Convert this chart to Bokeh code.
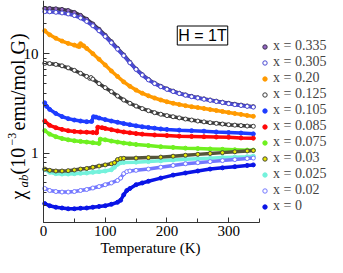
import math
from bokeh.plotting import figure
from bokeh.models import FixedTicker, Label, Legend, LegendItem, Range1d, BasicTickFormatter
from bokeh.embed import file_html
from bokeh.resources import INLINE

# ---------------- data ----------------
x_ticks = [0, 100, 200, 300]
x_tick_labels = ["0", "100", "200", "300"]
x_minor = [50, 150, 250, 350]
y_ticks = [1, 10]
y_tick_labels = ["1", "10"]
y_minor = [0.2, 0.3, 0.4, 0.5, 0.6, 0.7, 0.8, 0.9, 2, 3, 4, 5, 6, 7, 8, 9, 20, 30]

T_335 = [2, 10, 20, 30, 40, 50, 60, 70, 80, 90, 100, 110, 120, 130, 140, 150, 160, 170, 180, 190,
         200, 210, 220, 230, 240, 250, 260, 270, 280, 290, 300, 310, 320, 330, 340]
chi_335 = [28.5, 28.5, 28.3, 27.9, 27.2, 26.0, 24.3, 22.2, 19.9, 17.6, 15.3, 13.2, 11.3, 9.7, 8.2, 7.0,
           6.15, 5.5, 5.05, 4.7, 4.42, 4.2, 4.0, 3.85, 3.72, 3.61, 3.51, 3.42, 3.33, 3.25, 3.17, 3.1,
           3.04, 2.98, 2.93]

T_305 = [2, 10, 20, 30, 40, 50, 60, 70, 80, 90, 100, 110, 120, 130, 140, 150, 160, 170, 180, 190,
         200, 210, 220, 230, 240, 250, 260, 270, 280, 290, 300, 310, 320, 330, 340]
chi_305 = [26.5, 26.4, 26.1, 25.7, 25.1, 24.2, 22.9, 21.1, 19.1, 17.0, 14.9, 12.9, 11.1, 9.55, 8.1,
           6.95, 6.1, 5.45, 5.0, 4.65, 4.38, 4.16, 3.97, 3.82, 3.69, 3.58, 3.48, 3.39, 3.3, 3.22,
           3.14, 3.07, 3.01, 2.95, 2.9]

T_20 = [2, 10, 20, 30, 40, 50, 55, 58, 60, 65, 70, 80, 90, 100, 110, 120, 130, 140, 150, 160, 170,
        180, 190, 200, 210, 220, 230, 240, 250, 260, 270, 280, 290, 300, 310, 320, 330, 340]
chi_20 = [17.0, 15.5, 14.3, 13.4, 12.7, 12.2, 11.95, 11.8, 12.6, 12.0, 11.3, 10.0, 8.8, 7.7, 6.7,
          5.9, 5.2, 4.7, 4.3, 4.0, 3.77, 3.58, 3.42, 3.28, 3.17, 3.08, 3.0, 2.93, 2.87, 2.81, 2.74,
          2.68, 2.62, 2.56, 2.5, 2.45, 2.39, 2.34]

T_125 = [2, 10, 20, 30, 40, 50, 60, 70, 75, 77, 80, 90, 100, 110, 120, 130, 140, 150, 160, 170, 180,
         190, 200, 210, 220, 230, 240, 250, 260, 270, 280, 290, 300, 310, 320, 330, 340]
chi_125 = [8.0, 7.95, 7.8, 7.55, 7.2, 6.8, 6.35, 5.9, 5.65, 5.75, 5.55, 5.0, 4.55, 4.15, 3.75, 3.42,
           3.17, 2.97, 2.8, 2.67, 2.55, 2.46, 2.38, 2.32, 2.26, 2.2, 2.15, 2.1, 2.06, 2.02, 1.99,
           1.96, 1.93, 1.91, 1.89, 1.87, 1.86]

T_105 = [2, 5, 10, 20, 30, 40, 50, 60, 70, 78, 81, 85, 90, 100, 110, 120, 130, 140, 150, 160, 170,
         180, 190, 200, 220, 240, 260, 280, 300, 320, 340]
chi_105 = [3.2, 2.95, 2.75, 2.5, 2.33, 2.22, 2.15, 2.1, 2.07, 2.08, 2.32, 2.3, 2.25, 2.17, 2.1, 2.04,
           1.98, 1.93, 1.88, 1.84, 1.81, 1.78, 1.75, 1.73, 1.7, 1.68, 1.66, 1.63, 1.61, 1.59, 1.56]

T_085 = [2, 10, 20, 30, 40, 50, 60, 70, 80, 86, 88, 95, 100, 110, 120, 130, 140, 150, 160, 180, 200,
         220, 240, 260, 280, 300, 320, 340]
chi_085 = [2.1, 1.9, 1.8, 1.73, 1.68, 1.65, 1.63, 1.62, 1.61, 1.6, 1.82, 1.8, 1.77, 1.72, 1.67, 1.63,
           1.6, 1.57, 1.55, 1.52, 1.5, 1.48, 1.47, 1.46, 1.45, 1.44, 1.42, 1.41]

T_075 = [2, 10, 20, 30, 40, 50, 60, 70, 80, 90, 92, 100, 110, 120, 130, 140, 150, 170, 190, 210,
         230, 250, 270, 290, 310, 330, 340]
chi_075 = [1.68, 1.55, 1.46, 1.4, 1.36, 1.33, 1.31, 1.29, 1.27, 1.25, 1.38, 1.36, 1.32, 1.29, 1.26,
           1.24, 1.22, 1.19, 1.16, 1.14, 1.12, 1.11, 1.1, 1.09, 1.08, 1.07, 1.07]

T_03 = [2, 10, 20, 30, 40, 50, 60, 70, 80, 90, 100, 110, 115, 120, 125, 130, 150, 170, 190, 210,
        230, 250, 270, 290, 310, 330, 340]
chi_03 = [0.69, 0.67, 0.66, 0.66, 0.665, 0.675, 0.69, 0.7, 0.72, 0.74, 0.76, 0.78, 0.8, 0.86, 0.88,
          0.885, 0.89, 0.9, 0.91, 0.93, 0.95, 0.97, 0.99, 1.01, 1.03, 1.05, 1.06]

T_025 = [2, 10, 20, 30, 40, 50, 60, 70, 80, 90, 100, 110, 115, 120, 125, 130, 150, 170, 190, 210,
         230, 250, 270, 290, 310, 330, 340]
chi_025 = [0.68, 0.64, 0.62, 0.615, 0.615, 0.62, 0.625, 0.63, 0.64, 0.65, 0.66, 0.68, 0.72, 0.77,
           0.8, 0.805, 0.81, 0.82, 0.835, 0.85, 0.865, 0.875, 0.885, 0.9, 0.91, 0.92, 0.93]

T_02 = [2, 10, 20, 30, 40, 50, 60, 70, 80, 90, 100, 110, 120, 125, 130, 135, 140, 150, 170, 190,
        210, 230, 250, 270, 290, 310, 330, 340]
chi_02 = [0.44, 0.42, 0.41, 0.405, 0.405, 0.41, 0.42, 0.43, 0.445, 0.46, 0.48, 0.5, 0.53, 0.56, 0.62,
          0.65, 0.66, 0.67, 0.69, 0.72, 0.75, 0.78, 0.8, 0.82, 0.84, 0.86, 0.88, 0.89]

T_0 = [2, 10, 20, 30, 40, 50, 60, 70, 80, 90, 100, 110, 120, 125, 130, 135, 140, 150, 160, 170, 190,
       210, 230, 250, 270, 290, 310, 330, 340]
chi_0 = [0.31, 0.295, 0.285, 0.28, 0.275, 0.275, 0.278, 0.28, 0.285, 0.29, 0.295, 0.305, 0.32, 0.335,
         0.38, 0.42, 0.44, 0.48, 0.5, 0.52, 0.56, 0.6, 0.63, 0.66, 0.69, 0.71, 0.73, 0.75, 0.76]

legend_labels = ["x = 0.335", "x = 0.305", "x = 0.20", "x = 0.125", "x = 0.105", "x = 0.085",
                 "x = 0.075", "x = 0.03", "x = 0.025", "x = 0.02", "x = 0"]

# (T, chi, line colour, marker fill, marker line colour)
series = [
    (T_335, chi_335, "#3e3550", "#9466c4", "#3e3550"),
    (T_305, chi_305, "#4a4ad2", "white", "#4a4ad2"),
    (T_20, chi_20, "#ff9a00", "#ff9a00", "#ff9a00"),
    (T_125, chi_125, "#3c3c3c", "white", "#3c3c3c"),
    (T_105, chi_105, "#1e3cff", "#1e3cff", "#1e3cff"),
    (T_085, chi_085, "#ff0808", "#ff0808", "#ff0808"),
    (T_075, chi_075, "#6ff020", "#6ff020", "#6ff020"),
    (T_03, chi_03, "#55553a", "#e8e800", "#4a4a3a"),
    (T_025, chi_025, "#74f2dc", "#74f2dc", "#74f2dc"),
    (T_02, chi_02, "#7478ff", "white", "#7478ff"),
    (T_0, chi_0, "#0a14e6", "#0a14e6", "#0a14e6"),
]

# ---------------- figure ----------------
# the frame covers the whole canvas; the axes are pinned with fixed_location + bounds
p = figure(width=327, height=257, x_range=Range1d(-69.68, 460.18), y_range=Range1d(0.0889, 34.30),
           y_axis_type="log", output_backend="svg", toolbar_location=None,
           min_border_left=0, min_border_right=0, min_border_top=0, min_border_bottom=0)
p.outline_line_color = None
p.xgrid.visible = False
p.ygrid.visible = False
p.background_fill_color = "white"
p.border_fill_color = "white"

p.xaxis.fixed_location = 0.2
p.xaxis.bounds = (0, 350)
p.yaxis.fixed_location = 0
p.yaxis.bounds = (0.2, 34.3)

p.xaxis.ticker = FixedTicker(ticks=x_ticks, minor_ticks=x_minor)
p.yaxis.ticker = FixedTicker(ticks=y_ticks, minor_ticks=y_minor)
p.xaxis.formatter = BasicTickFormatter()
p.yaxis.formatter = BasicTickFormatter()
p.xaxis.major_label_overrides = {t: s for t, s in zip(x_ticks, x_tick_labels)}
p.yaxis.major_label_overrides = {t: s for t, s in zip(y_ticks, y_tick_labels)}
for ax in (p.xaxis[0], p.yaxis[0]):
    ax.axis_line_color = "#333333"
    ax.major_tick_line_color = "#333333"
    ax.minor_tick_line_color = "#333333"
    ax.major_tick_out = 0
    ax.minor_tick_out = 0
    ax.major_label_text_font = "Liberation Serif"
    ax.major_label_text_font_size = "15px"
    ax.major_label_text_color = "black"
p.xaxis.major_tick_in = 5
p.xaxis.minor_tick_in = 4
p.yaxis.major_tick_in = 6
p.yaxis.minor_tick_in = 3
p.xaxis.major_label_standoff = 3
p.yaxis.major_label_standoff = 5

draw_order = [0, 1, 2, 3, 4, 5, 6, 8, 7, 9, 10]
scatter_r = {}
for i in draw_order:
    T, chi, lc, fc, mc = series[i]
    p.line(T, chi, line_color=lc, line_width=3.5)
    scatter_r[i] = p.scatter(T, chi, marker="circle", size=4, fill_color=fc, line_color=mc,
                             line_width=1)

items = [LegendItem(label=legend_labels[i], renderers=[scatter_r[i]]) for i in range(len(series))]
legend = Legend(items=items, location=(259, 43), padding=0, margin=0, spacing=0,
                glyph_width=11, glyph_height=15, label_height=15, label_standoff=3,
                label_text_font="Liberation Serif", label_text_font_size="14px",
                border_line_color=None, background_fill_alpha=0)
p.add_layout(legend)

# y-axis label pieces (rotated; anchored at the middle of each text line)
def ylab(text, fx, fy, size, style="normal"):
    p.add_layout(Label(x=fx, y=fy, x_units="screen", y_units="screen", text=text, angle=math.pi / 2,
                       text_align="left", text_baseline="middle", text_font="Liberation Serif",
                       text_font_size=size, text_font_style=style, text_color="black"))

ylab("\u03c7", 17, 58, "20px")
ylab("ab", 22.5, 70, "13px", "italic")
ylab("(10", 17, 83, "20px")
ylab("\u22123", 11, 112, "12px")
ylab("emu/mol G)", 17, 127, "20px")

p.add_layout(Label(x=150, y=10, x_units="screen", y_units="screen", text="Temperature (K)",
                   text_align="center", text_baseline="middle", text_font="Liberation Serif",
                   text_font_size="15px", text_color="black"))

p.add_layout(Label(x=202, y=222, x_units="screen", y_units="screen", text="H = 1T",
                   text_align="center", text_baseline="middle", text_font="Liberation Sans",
                   text_font_size="16px", text_color="black", border_line_color="black",
                   border_line_width=1, background_fill_color="white", padding=1))

open("out.html", "w").write(file_html(p, INLINE))
